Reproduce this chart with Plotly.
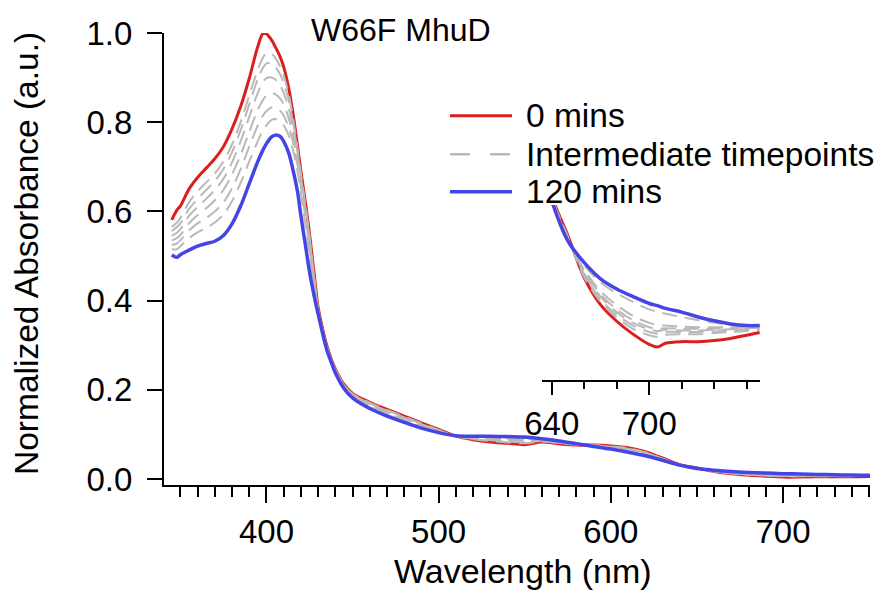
import plotly.graph_objects as go

# ---------------- data ----------------
wavelength = [345, 348, 350, 355, 360, 365, 370, 375, 380, 385, 390, 395, 398, 400, 403, 405, 408, 410,
              413, 415, 418, 420, 423, 425, 428, 430, 433, 435, 438, 440, 445, 450, 460, 470, 480, 490,
              500, 510, 520, 530, 540, 550, 560, 570, 580, 590, 600, 610, 620, 630, 640, 650, 660, 670,
              680, 690, 700, 705, 710, 720, 730, 740, 750, 760, 768]

abs_0min = [0.581, 0.603, 0.612, 0.650, 0.676, 0.697, 0.718, 0.745, 0.785, 0.835, 0.898, 0.970, 0.999, 0.998,
            0.984, 0.970, 0.946, 0.924, 0.875, 0.83, 0.748, 0.69, 0.61, 0.55, 0.45, 0.385, 0.33, 0.30, 0.265,
            0.247, 0.212, 0.192, 0.172, 0.156, 0.141, 0.126, 0.111, 0.096, 0.088, 0.083, 0.080, 0.077,
            0.083, 0.079, 0.076, 0.076, 0.074, 0.070, 0.061, 0.047, 0.032, 0.0245, 0.0167, 0.0117, 0.0086,
            0.0062, 0.0043, 0.0038, 0.0045, 0.0048, 0.0048, 0.0050, 0.0054, 0.0060, 0.0065]

abs_120min = [0.502, 0.497, 0.503, 0.513, 0.522, 0.528, 0.533, 0.546, 0.572, 0.612, 0.662, 0.712, 0.738,
              0.752, 0.767, 0.771, 0.768, 0.757, 0.73, 0.70, 0.645, 0.59, 0.515, 0.465, 0.405, 0.37, 0.32,
              0.29, 0.258, 0.238, 0.203, 0.182, 0.158, 0.141, 0.127, 0.114, 0.104, 0.097, 0.096, 0.096,
              0.095, 0.094, 0.090, 0.085, 0.079, 0.073, 0.067, 0.060, 0.052, 0.042, 0.031, 0.0235, 0.0195,
              0.0165, 0.0146, 0.0132, 0.0119, 0.0115, 0.0110, 0.0103, 0.0094, 0.0087, 0.0081, 0.0078, 0.0078]

abs_mid1 = [0.565, 0.575, 0.585, 0.62, 0.645, 0.665, 0.685, 0.712, 0.75, 0.80, 0.86, 0.918, 0.945, 0.955,
            0.953, 0.945, 0.925, 0.905, 0.862, 0.82, 0.742, 0.685, 0.605, 0.545, 0.445, 0.382, 0.328, 0.298,
            0.264, 0.246, 0.211, 0.191, 0.171, 0.155, 0.140, 0.125, 0.110, 0.096, 0.089, 0.085, 0.082,
            0.080, 0.084, 0.080, 0.077, 0.076, 0.073, 0.069, 0.060, 0.046, 0.0318, 0.0243, 0.0168, 0.0122,
            0.0093, 0.0072, 0.0060, 0.0057, 0.0061, 0.0062, 0.0062, 0.0064, 0.0066, 0.0068, 0.0070]

abs_mid2 = [0.556, 0.565, 0.573, 0.605, 0.628, 0.648, 0.668, 0.695, 0.733, 0.782, 0.84, 0.897, 0.922, 0.932,
            0.931, 0.925, 0.907, 0.888, 0.848, 0.808, 0.735, 0.678, 0.598, 0.54, 0.44, 0.38, 0.327, 0.297,
            0.263, 0.245, 0.21, 0.19, 0.169, 0.153, 0.138, 0.123, 0.109, 0.096, 0.090, 0.087, 0.084, 0.082,
            0.085, 0.081, 0.077, 0.075, 0.072, 0.068, 0.059, 0.045, 0.0316, 0.0242, 0.0172, 0.0127, 0.0098,
            0.0078, 0.0066, 0.0063, 0.0066, 0.0066, 0.0066, 0.0067, 0.0069, 0.0071, 0.0072]

abs_mid3 = [0.545, 0.552, 0.56, 0.59, 0.61, 0.628, 0.648, 0.673, 0.71, 0.757, 0.812, 0.866, 0.89, 0.899,
            0.9, 0.896, 0.882, 0.866, 0.83, 0.795, 0.727, 0.672, 0.593, 0.535, 0.437, 0.378, 0.326, 0.296,
            0.263, 0.244, 0.209, 0.189, 0.167, 0.151, 0.136, 0.121, 0.108, 0.096, 0.091, 0.089, 0.087,
            0.085, 0.086, 0.082, 0.077, 0.075, 0.071, 0.066, 0.058, 0.045, 0.0314, 0.024, 0.0175, 0.0132,
            0.0103, 0.0083, 0.0071, 0.0068, 0.0070, 0.0069, 0.0069, 0.0070, 0.0071, 0.0073, 0.0074]

abs_mid4 = [0.535, 0.54, 0.547, 0.573, 0.592, 0.607, 0.625, 0.648, 0.683, 0.727, 0.778, 0.828, 0.85, 0.86,
            0.865, 0.863, 0.853, 0.84, 0.808, 0.778, 0.716, 0.665, 0.585, 0.528, 0.432, 0.375, 0.324, 0.295,
            0.262, 0.243, 0.208, 0.187, 0.165, 0.149, 0.134, 0.12, 0.107, 0.097, 0.093, 0.091, 0.089, 0.088,
            0.087, 0.083, 0.078, 0.074, 0.07, 0.065, 0.057, 0.044, 0.0312, 0.0238, 0.0178, 0.0136, 0.0108,
            0.0088, 0.0075, 0.0072, 0.0073, 0.0072, 0.0072, 0.0072, 0.0073, 0.0075, 0.0076]

abs_mid5 = [0.525, 0.528, 0.535, 0.557, 0.573, 0.585, 0.6, 0.62, 0.652, 0.695, 0.745, 0.793, 0.815, 0.825,
            0.833, 0.832, 0.825, 0.815, 0.788, 0.762, 0.705, 0.655, 0.576, 0.52, 0.426, 0.372, 0.322, 0.293,
            0.261, 0.242, 0.207, 0.186, 0.163, 0.147, 0.132, 0.118, 0.106, 0.097, 0.094, 0.093, 0.091,
            0.090, 0.088, 0.084, 0.078, 0.074, 0.069, 0.063, 0.055, 0.043, 0.031, 0.0236, 0.0182, 0.0142,
            0.0116, 0.0096, 0.0083, 0.0079, 0.0078, 0.0076, 0.0075, 0.0075, 0.0075, 0.0076, 0.0077]

abs_mid6 = [0.515, 0.515, 0.522, 0.54, 0.553, 0.563, 0.575, 0.593, 0.623, 0.664, 0.712, 0.758, 0.782, 0.793,
            0.805, 0.807, 0.802, 0.793, 0.77, 0.745, 0.69, 0.64, 0.56, 0.505, 0.418, 0.37, 0.32, 0.291,
            0.26, 0.24, 0.205, 0.184, 0.161, 0.144, 0.13, 0.116, 0.105, 0.097, 0.095, 0.095, 0.093, 0.092,
            0.089, 0.085, 0.079, 0.073, 0.068, 0.061, 0.053, 0.042, 0.0308, 0.0234, 0.019, 0.0158, 0.0138,
            0.0122, 0.0108, 0.0104, 0.0100, 0.0094, 0.0088, 0.0083, 0.0079, 0.0077, 0.0077]

intermediate_series = [abs_mid1, abs_mid2, abs_mid3, abs_mid4, abs_mid5, abs_mid6]

legend_labels = ["0 mins", "Intermediate timepoints", "120 mins"]
title_text = "W66F MhuD"
x_title = "Wavelength (nm)"
y_title = "Normalized Absorbance (a.u.)"
main_yticks = [0.0, 0.2, 0.4, 0.6, 0.8, 1.0]
inset_xticks = [640, 700]
inset_minor_xticks = [660, 680, 720, 740, 760]

# ---------------- style ----------------
RED = "#dc1e1e"
BLUE = "#4545e6"
GRAY = "#b9b9b9"
FONT = "Liberation Sans, Arial, sans-serif"
DASH = "15px,8px"
SMOOTH = 0.9

fig = go.Figure()

for xa, ya in (("x", "y"), ("x2", "y2")):
    fig.add_trace(go.Scatter(x=wavelength, y=abs_0min, mode="lines", xaxis=xa, yaxis=ya,
                             line=dict(color=RED, width=3, shape="spline", smoothing=SMOOTH),
                             showlegend=False, hoverinfo="skip"))
    for s in intermediate_series:
        fig.add_trace(go.Scatter(x=wavelength, y=s, mode="lines", xaxis=xa, yaxis=ya,
                                 line=dict(color=GRAY, width=2, dash=DASH, shape="spline", smoothing=SMOOTH),
                                 showlegend=False, hoverinfo="skip"))
    fig.add_trace(go.Scatter(x=wavelength, y=abs_120min, mode="lines", xaxis=xa, yaxis=ya,
                             line=dict(color=BLUE, width=3.5, shape="spline", smoothing=SMOOTH),
                             showlegend=False, hoverinfo="skip"))

W, H = 883, 591
ML, MR, MT, MB = 164, 13, 33, 106
PW, PH = W - ML - MR, H - MT - MB


def px_x(px):
    return (px - ML) / PW


def px_y(py):
    return (H - MB - py) / PH


# legend (manual)
legend_rows = [(legend_labels[0], RED, "solid", 3, 115.7),
               (legend_labels[1], GRAY, "20px,20px", 2.5, 154.3),
               (legend_labels[2], BLUE, "solid", 3.5, 191.7)]
shapes = []
annotations = []
for label, color, dash, width, py in legend_rows:
    shapes.append(dict(type="line", xref="paper", yref="paper",
                       x0=px_x(450), x1=px_x(512), y0=px_y(py), y1=px_y(py),
                       line=dict(color=color, width=width, dash=dash)))
    annotations.append(dict(text=label, xref="paper", yref="paper", x=px_x(524), y=px_y(py),
                            xanchor="left", yanchor="middle", showarrow=False,
                            font=dict(family=FONT, size=33.5, color="black")))

annotations.append(dict(text=title_text, xref="paper", yref="paper", x=px_x(309), y=px_y(30),
                        xanchor="left", yanchor="middle", showarrow=False,
                        font=dict(family=FONT, size=32, color="black")))
annotations.append(dict(text=x_title, xref="paper", yref="paper", x=px_x(523), y=px_y(571),
                        xanchor="center", yanchor="middle", showarrow=False,
                        font=dict(family=FONT, size=34, color="black")))
annotations.append(dict(text=y_title, xref="paper", yref="paper", x=px_x(26), y=px_y(254),
                        xanchor="center", yanchor="middle", showarrow=False, textangle=-90,
                        font=dict(family=FONT, size=33.5, color="black")))

fig.update_layout(
    width=W, height=H,
    margin=dict(l=ML, r=MR, t=MT, b=MB, autoexpand=False),
    paper_bgcolor="white", plot_bgcolor="rgba(0,0,0,0)",
    font=dict(family=FONT, size=33, color="black"),
    showlegend=False,
    shapes=shapes,
    annotations=annotations,
    xaxis=dict(domain=[0, 1], range=[340.5, 750.5], showgrid=False, zeroline=False,
               showline=True, linecolor="black", linewidth=2,
               ticks="outside", ticklen=16, tickwidth=2, tickcolor="black",
               tick0=0, dtick=100, tickfont=dict(size=33),
               minor=dict(ticks="outside", dtick=10, tick0=0, ticklen=10, tickwidth=2, tickcolor="black")),
    yaxis=dict(domain=[0, 1], range=[-0.0135, 1.0], showgrid=False, zeroline=False,
               showline=True, linecolor="black", linewidth=2,
               ticks="outside", ticklen=15, tickwidth=2, tickcolor="black",
               tickvals=main_yticks, tickformat=".1f", tickfont=dict(size=33),
               ticklabelstandoff=8),
    xaxis2=dict(domain=[px_x(541.7), px_x(760)], range=[633.8, 768.2], anchor="y2",
                showgrid=False, zeroline=False, showline=True, linecolor="black", linewidth=2,
                ticks="outside", ticklen=13, tickwidth=2, tickcolor="black",
                tickvals=inset_xticks, tickfont=dict(size=33),
                minor=dict(ticks="outside", tickvals=inset_minor_xticks, ticklen=7,
                           tickwidth=2, tickcolor="black")),
    yaxis2=dict(domain=[px_y(380), px_y(205)], range=[-0.00233, 0.03023], anchor="x2",
                visible=False, showgrid=False, zeroline=False),
)

fig.write_html("out.html")
